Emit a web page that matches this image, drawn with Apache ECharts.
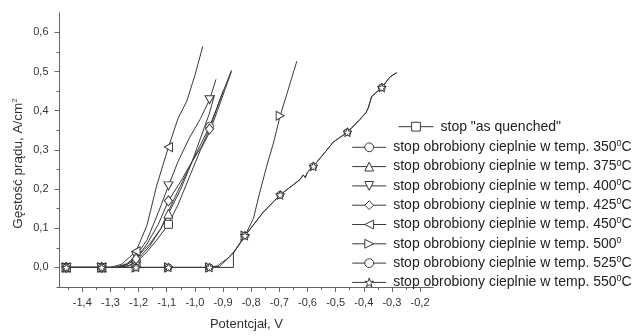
<!DOCTYPE html>
<html>
<head>
<meta charset="utf-8">
<script src="https://cdn.jsdelivr.net/npm/echarts@6/dist/echarts.min.js"></script>
<style>
html,body{margin:0;padding:0;background:#fff;}
#chart{width:635px;height:336px;}
</style>
</head>
<body>
<div id="chart"></div>
<script>
// ---- tick labels ----
const xTicks = [-1.4,-1.3,-1.2,-1.1,-1.0,-0.9,-0.8,-0.7,-0.6,-0.5,-0.4,-0.3,-0.2];
const xMinorTicks = [-1.45,-1.4,-1.35,-1.3,-1.25,-1.2,-1.15,-1.1,-1.05,-1.0,-0.95,-0.9,-0.85,-0.8,-0.75,-0.7,-0.65,-0.6,-0.55,-0.5,-0.45,-0.4,-0.35,-0.3,-0.25,-0.2];
const yTicks = [0,0.1,0.2,0.3,0.4,0.5,0.6];
const yMinorTicks = [-0.05,0,0.05,0.1,0.15,0.2,0.25,0.3,0.35,0.4,0.45,0.5,0.55,0.6];

// ---- series names ----
const seriesNames = [
  'stop "as quenched"',
  'stop obrobiony cieplnie w temp. 350°C',
  'stop obrobiony cieplnie w temp. 375°C',
  'stop obrobiony cieplnie w temp. 400°C',
  'stop obrobiony cieplnie w temp. 425°C',
  'stop obrobiony cieplnie w temp. 450°C',
  'stop obrobiony cieplnie w temp. 500°',
  'stop obrobiony cieplnie w temp. 525°C',
  'stop obrobiony cieplnie w temp. 550°C'
];

// ---- data (potential V, current density A/cm2) ----
const xQ = [-1.467,-1.457,-1.331,-1.27,-1.24,-1.209,-1.17,-1.13,-1.094,-1.06,-1.02,-0.98,-0.948,-0.92,-0.89,-0.87];
const yQ = [0,0,0,0,0.004,0.012,0.04,0.075,0.11,0.16,0.23,0.30,0.345,0.40,0.46,0.50];
const mQ = [-1.457,-1.331,-1.209,-1.094];

const x350 = [-1.467,-1.457,-1.331,-1.27,-1.23,-1.209,-1.16,-1.12,-1.09,-1.05,-1.01,-0.975,-0.948,-0.92,-0.90];
const y350 = [0,0,0,0,0.005,0.016,0.055,0.10,0.15,0.21,0.27,0.32,0.36,0.41,0.45];
const m350 = [-1.457,-1.331,-1.209,-0.948];

const x375 = [-1.467,-1.457,-1.331,-1.28,-1.24,-1.209,-1.16,-1.12,-1.094,-1.05,-1.01,-0.98,-0.95,-0.93];
const y375 = [0,0,0,0,0.008,0.025,0.06,0.10,0.137,0.20,0.27,0.33,0.39,0.44];
const m375 = [-1.457,-1.331,-1.209,-1.094];

const x400 = [-1.467,-1.457,-1.331,-1.28,-1.24,-1.209,-1.17,-1.13,-1.094,-1.06,-1.02,-0.98,-0.948,-0.925];
const y400 = [0,0,0,0,0.01,0.03,0.07,0.14,0.208,0.27,0.33,0.38,0.428,0.48];
const m400 = [-1.457,-1.331,-1.209,-1.094,-0.948];

const x425 = [-1.467,-1.457,-1.331,-1.28,-1.24,-1.209,-1.17,-1.13,-1.094,-1.05,-1.01,-0.975,-0.948,-0.91,-0.87];
const y425 = [0,0,0,0,0.008,0.022,0.06,0.11,0.17,0.22,0.27,0.31,0.353,0.43,0.503];
const m425 = [-1.457,-1.331,-1.209,-1.094,-0.948];

const x450 = [-1.467,-1.457,-1.331,-1.30,-1.26,-1.209,-1.17,-1.136,-1.094,-1.06,-1.029,-1.0,-0.972];
const y450 = [0,0,0,0,0.008,0.041,0.108,0.208,0.307,0.38,0.424,0.49,0.564];
const m450 = [-1.457,-1.331,-1.209,-1.094];

const x500 = [-1.467,-1.457,-1.331,-1.209,-1.094,-0.948,-0.92,-0.88,-0.85,-0.822,-0.792,-0.77,-0.745,-0.72,-0.697,-0.67,-0.638];
const y500 = [0,0,0,0,0,0,0.004,0.025,0.05,0.081,0.125,0.19,0.258,0.32,0.387,0.45,0.526];
const m500 = [-1.457,-1.331,-1.209,-1.094,-0.948,-0.822,-0.697];

const x525 = [-1.467,-1.457,-1.331,-1.209,-1.094,-0.948,-0.863,-0.863,-0.822,-0.757,-0.697,-0.627,-0.615,-0.608,-0.600,-0.579,-0.508,-0.458,-0.413,-0.405,-0.400,-0.392,-0.384,-0.372,-0.336,-0.307,-0.283];
const y525 = [0,0,0,0,0,0,0,0.037,0.081,0.141,0.185,0.224,0.236,0.229,0.243,0.258,0.32,0.345,0.378,0.385,0.380,0.395,0.407,0.436,0.459,0.486,0.497];
const m525 = [-1.457,-1.331,-1.209,-1.094,-0.948,-0.822,-0.697,-0.579,-0.458,-0.336];

const x550 = [-1.467,-1.457,-1.331,-1.209,-1.094,-0.948,-0.911,-0.863,-0.822,-0.757,-0.697,-0.627,-0.615,-0.608,-0.600,-0.579,-0.508,-0.458,-0.413,-0.405,-0.400,-0.392,-0.384,-0.372,-0.336,-0.307,-0.283];
const y550 = [0,0,0,0,0,0,0.003,0.037,0.081,0.141,0.185,0.224,0.236,0.229,0.243,0.258,0.32,0.345,0.378,0.385,0.380,0.395,0.407,0.436,0.459,0.486,0.497];
const m550 = [-1.457,-1.331,-1.209,-1.094,-0.948,-0.822,-0.697,-0.579,-0.458,-0.336];

const seriesX = [xQ,x350,x375,x400,x425,x450,x500,x525,x550];
const seriesY = [yQ,y350,y375,y400,y425,y450,y500,y525,y550];
const seriesMarks = [mQ,m350,m375,m400,m425,m450,m500,m525,m550];

const symbols = [
  'rect','circle','triangle',
  'path://M0,0L10,0L5,9Z',
  'diamond',
  'path://M10,0L10,10L1,5Z',
  'path://M0,0L0,10L9,5Z',
  'circle',
  'path://M5,0L6.2,3.6L10,3.6L6.9,5.9L8.1,9.5L5,7.3L1.9,9.5L3.1,5.9L0,3.6L3.8,3.6Z'
];
const symbolSizes = [8,8,9,[9,8],[8,10],[8,9],[8,9],7,9];

const ink = '#3a3a3a';
const fmt = v => (Math.round(v*10)/10).toFixed(1).replace('.', ',');

const series = seriesNames.map((name, i) => ({
  name: name,
  type: 'line',
  xAxisIndex: 0,
  yAxisIndex: 0,
  symbol: symbols[i],
  symbolSize: symbolSizes[i],
  showAllSymbol: true,
  smooth: false,
  animation: false,
  lineStyle: { color: ink, width: 1 },
  itemStyle: { color: '#ffffff', borderColor: ink, borderWidth: 1 },
  emphasis: { disabled: true },
  data: seriesX[i].map((x, j) => {
    const item = { value: [x, seriesY[i][j]] };
    if (!seriesMarks[i].includes(x) || (i === 7 && j === 6)) item.symbol = 'none';
    return item;
  })
}));

const legendText = {
  fontFamily: 'Liberation Sans, Arial, sans-serif',
  fontSize: 14,
  color: '#222',
  lineHeight: 16,
  padding: [0, 0, 0, 2],
  rich: {
    sup: { fontSize: 9, lineHeight: 11, verticalAlign: 'top', color: '#222', fontFamily: 'Liberation Sans, Arial, sans-serif' }
  }
};
const legendFmt = n => n.replace('°', '{sup|0}');
const legendCommon = {
  orient: 'vertical', padding: 0,
  itemHeight: 11, itemGap: 3.3,
  formatter: legendFmt, textStyle: legendText, selectedMode: false,
  lineStyle: { width: 1, color: ink },
  itemStyle: { borderWidth: 1, borderColor: ink, color: '#ffffff' }
};

const axisColor = '#666';
const labelStyle = { fontFamily: 'Liberation Sans, Arial, sans-serif', fontSize: 11, color: '#333' };

const option = {
  animation: false,
  backgroundColor: '#fff',
  grid: { left: 59.5, right: 201.7, top: 12.7, bottom: 43.3, containLabel: false },
  xAxis: [
    {
      type: 'value', min: -1.481, max: -0.153, position: 'bottom',
      axisLine: { show: true, onZero: false, lineStyle: { color: axisColor, width: 1 } },
      axisTick: { show: true, customValues: xTicks, length: 5, lineStyle: { color: axisColor } },
      axisLabel: { show: true, customValues: xTicks, formatter: fmt, margin: 10, ...labelStyle },
      splitLine: { show: false },
      name: 'Potentcjał, V', nameLocation: 'middle', nameGap: 31,
      nameTextStyle: { fontFamily: 'Liberation Sans, Arial, sans-serif', fontSize: 13, color: '#333' }
    },
    {
      type: 'value', min: -1.481, max: -0.153, position: 'bottom', offset: 0,
      axisLine: { show: false, onZero: false },
      axisTick: { show: true, customValues: xMinorTicks, length: 3, lineStyle: { color: axisColor } },
      axisLabel: { show: false },
      splitLine: { show: false }
    }
  ],
  yAxis: [
    {
      type: 'value', min: -0.05, max: 0.65, position: 'left',
      axisLine: { show: true, onZero: false, lineStyle: { color: axisColor, width: 1 } },
      axisTick: { show: true, customValues: yTicks, length: 5, lineStyle: { color: axisColor } },
      axisLabel: { show: true, customValues: yTicks, formatter: fmt, margin: 11, ...labelStyle },
      splitLine: { show: false }
    },
    {
      type: 'value', min: -0.05, max: 0.65, position: 'left', offset: 0,
      axisLine: { show: false, onZero: false },
      axisTick: { show: true, customValues: yMinorTicks, length: 3, lineStyle: { color: axisColor } },
      axisLabel: { show: false },
      splitLine: { show: false }
    }
  ],
  legend: [
    Object.assign({}, legendCommon, {
      data: [seriesNames[0]], left: 398, top: 118.7, itemWidth: 35
    }),
    Object.assign({}, legendCommon, {
      data: seriesNames.slice(1), left: 351.7, top: 139.3, itemWidth: 34
    })
  ],
  graphic: [
    {
      type: 'text', x: 18, y: 163.5, rotation: Math.PI / 2,
      style: {
        text: 'Gęstość prądu, A/cm{sup|2}',
        fontFamily: 'Liberation Sans, Arial, sans-serif',
        fontSize: 13.5, fill: '#333',
        align: 'center', verticalAlign: 'middle',
        rich: { sup: { fontSize: 8, lineHeight: 10, verticalAlign: 'top', fill: '#333', fontFamily: 'Liberation Sans, Arial, sans-serif' } }
      }
    }
  ],
  series: series
};

const chart = echarts.init(document.getElementById('chart'), null, { renderer: 'canvas' });
chart.setOption(option);
</script>
</body>
</html>
